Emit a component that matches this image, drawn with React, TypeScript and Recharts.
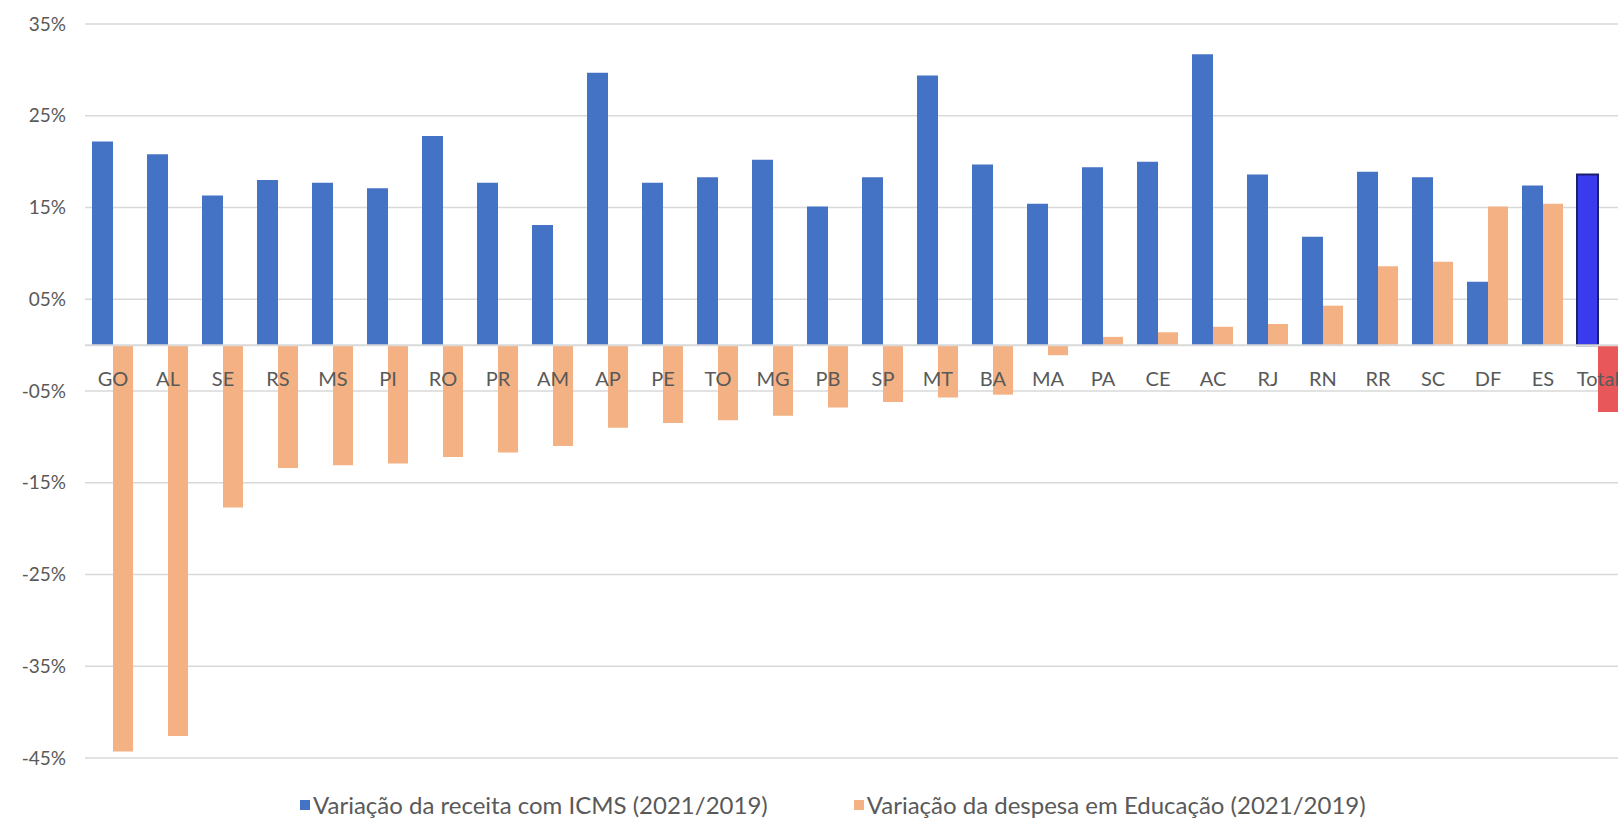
import React from 'react';
import {
  BarChart,
  Bar,
  XAxis,
  YAxis,
  CartesianGrid,
  ReferenceLine,
  Legend,
  Cell,
  LabelList,
} from 'recharts';

// Unidades da federação, ordenadas pela variação da despesa em Educação
const estados = [
  'GO', 'AL', 'SE', 'RS', 'MS', 'PI', 'RO', 'PR', 'AM', 'AP', 'PE', 'TO', 'MG', 'PB',
  'SP', 'MT', 'BA', 'MA', 'PA', 'CE', 'AC', 'RJ', 'RN', 'RR', 'SC', 'DF', 'ES', 'Total',
];

// Variação da receita com ICMS, 2021 sobre 2019 (%)
const receitaIcms = [
  22.2, 20.8, 16.3, 18.0, 17.7, 17.1, 22.8, 17.7, 13.1, 29.7, 17.7, 18.3, 20.2, 15.1,
  18.3, 29.4, 19.7, 15.4, 19.4, 20.0, 31.7, 18.6, 11.8, 18.9, 18.3, 6.9, 17.4, 18.6,
];

// Variação da despesa em Educação, 2021 sobre 2019 (%)
const despesaEducacao = [
  -44.3, -42.6, -17.7, -13.4, -13.1, -12.9, -12.2, -11.7, -11.0, -9.0, -8.5, -8.2, -7.7, -6.8,
  -6.2, -5.7, -5.4, -1.1, 0.9, 1.4, 2.0, 2.3, 4.3, 8.6, 9.1, 15.1, 15.4, -7.3,
];

const yTicks = [-45, -35, -25, -15, -5, 5, 15, 25, 35];

const nomeIcms = 'Variação da receita com ICMS (2021/2019)';
const nomeEducacao = 'Variação da despesa em Educação (2021/2019)';
const ordemLegenda = [nomeIcms, nomeEducacao];

const dados = estados.map((uf, i) => ({
  uf,
  icms: receitaIcms[i],
  educacao: despesaEducacao[i],
}));

const FONTE = 'Lato, "Open Sans", sans-serif';
const CINZA_TEXTO = '#595959';
const AZUL = '#4472C4';
const LARANJA = '#F4B183';
const AZUL_TOTAL = '#3B3BEE';
const VERMELHO_TOTAL = '#E8585B';

const formatarPercentual = (v: number) => {
  const sinal = v < 0 ? '-' : '';
  const abs = Math.abs(v);
  return `${sinal}${abs < 10 ? '0' : ''}${abs}%`;
};

// Rótulo da categoria, ancorado na base (linha do zero) da barra de ICMS
const RotuloEstado = (props: any) => {
  const { viewBox, value } = props;
  if (!viewBox) return null;
  const cx = viewBox.x + viewBox.width / 2;
  const base = Math.max(viewBox.y, viewBox.y + viewBox.height);
  return (
    <text
      x={cx}
      y={base + 33}
      textAnchor="middle"
      dominantBaseline="central"
      fontFamily={FONTE}
      fontSize={20}
      fill={CINZA_TEXTO}
    >
      {value}
    </text>
  );
};

const Legenda = (props: any) => {
  const itens = (props.payload || [])
    .filter((p: any) => p.type !== 'none')
    .sort((a: any, b: any) => ordemLegenda.indexOf(a.value) - ordemLegenda.indexOf(b.value));
  return (
    <div
      style={{
        display: 'flex',
        alignItems: 'center',
        fontFamily: FONTE,
        fontSize: 24,
        lineHeight: '30px',
        color: CINZA_TEXTO,
        whiteSpace: 'nowrap',
      }}
    >
      {itens.map((item: any, i: number) => (
        <span
          key={item.value}
          style={{
            display: 'inline-flex',
            alignItems: 'center',
            marginRight: i === 0 ? 86 : 0,
          }}
        >
          <span
            style={{
              display: 'inline-block',
              width: 10,
              height: 10,
              background: item.color,
              marginRight: 3,
            }}
          />
          <span>{item.value}</span>
        </span>
      ))}
    </div>
  );
};

export default function App() {
  return (
    <div
      style={{
        position: 'fixed',
        left: 0,
        top: 0,
        width: 1618,
        height: 824,
        overflow: 'hidden',
        background: '#ffffff',
      }}
    >
      <BarChart
        width={1640}
        height={824}
        data={dados}
        margin={{ top: 24, right: 15, bottom: 66, left: 25 }}
        barGap={0}
      >
        <CartesianGrid vertical={false} stroke="#D9D9D9" strokeWidth={1.5} />
        <XAxis dataKey="uf" hide />
        <XAxis dataKey="uf" xAxisId="rotulos" hide />
        <YAxis
          type="number"
          domain={[-45, 35]}
          ticks={yTicks}
          interval={0}
          tickFormatter={formatarPercentual}
          axisLine={false}
          tickLine={false}
          tickSize={0}
          tickMargin={19}
          width={60}
          tick={{ fontFamily: FONTE, fontSize: 19, fill: CINZA_TEXTO }}
        />
        <ReferenceLine y={0} stroke="#D9D9D9" strokeWidth={2} />
        <Bar dataKey="icms" name={nomeIcms} fill={AZUL} barSize={21} isAnimationActive={false}>
          {dados.map((d) => (
            <Cell
              key={d.uf}
              fill={d.uf === 'Total' ? AZUL_TOTAL : AZUL}
              stroke={d.uf === 'Total' ? '#1E1E6E' : 'none'}
              strokeWidth={d.uf === 'Total' ? 2 : 0}
            />
          ))}
        </Bar>
        <Bar dataKey="educacao" name={nomeEducacao} fill={LARANJA} barSize={20} isAnimationActive={false}>
          {dados.map((d) => (
            <Cell key={d.uf} fill={d.uf === 'Total' ? VERMELHO_TOTAL : LARANJA} />
          ))}
        </Bar>
        {/* camada transparente, centrada em cada categoria, só para os rótulos dos estados */}
        <Bar
          dataKey="icms"
          xAxisId="rotulos"
          barSize={20}
          fill="transparent"
          fillOpacity={0}
          legendType="none"
          isAnimationActive={false}
        >
          <LabelList dataKey="uf" content={<RotuloEstado />} />
        </Bar>
        <Legend
          verticalAlign="middle"
          align="center"
          content={<Legenda />}
          wrapperStyle={{ top: 790, left: 300, width: 1250, height: 30 }}
        />
      </BarChart>
    </div>
  );
}
